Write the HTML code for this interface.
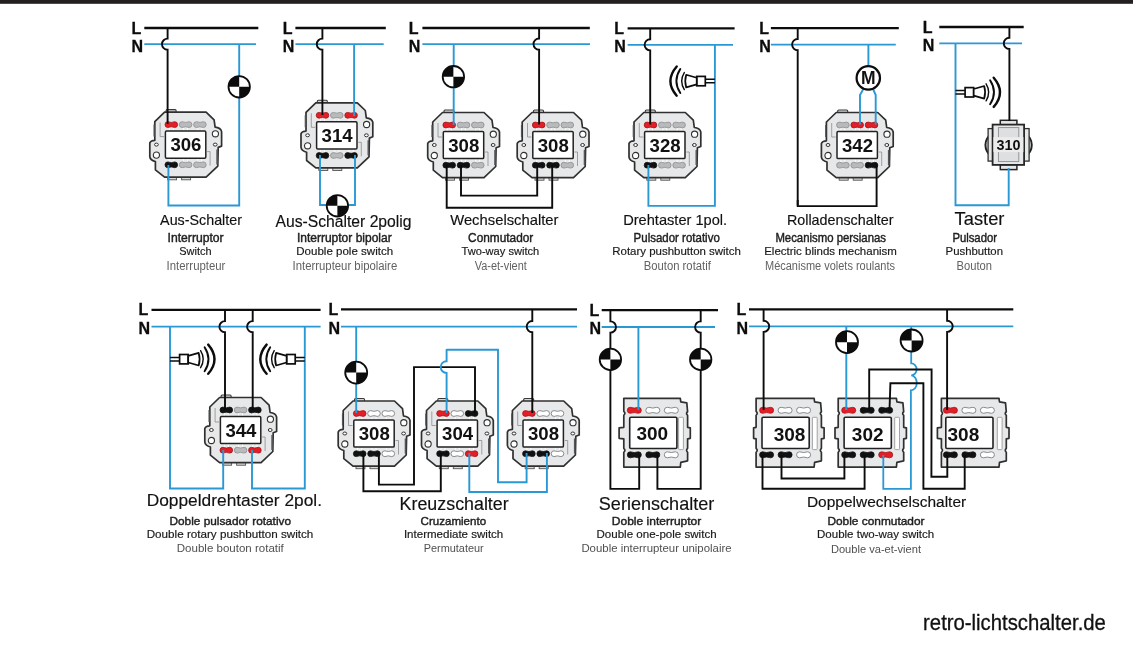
<!DOCTYPE html>
<html><head><meta charset="utf-8"><title>Schaltpl&#228;ne</title>
<style>
html,body{margin:0;padding:0;background:#fff;}
body{width:1133px;height:658px;overflow:hidden;font-family:"Liberation Sans",sans-serif;}
svg{display:block;}
body{will-change:transform;}
text{font-family:"Liberation Sans",sans-serif;}
.ln{font-weight:bold;font-size:16px;fill:#0c0c0c;stroke:#0c0c0c;stroke-width:0.3px;}
.num{font-weight:bold;fill:#111;}
.title{fill:#111;stroke:#111;stroke-width:0.15px;}
.sb{font-weight:normal;font-size:12.1px;fill:#1e1e1e;stroke:#1e1e1e;stroke-width:0.42px;}
.sr{font-size:11.6px;fill:#1a1a1a;stroke:#1a1a1a;stroke-width:0.18px;}
.sl{font-size:12px;fill:#626262;}
.sb2{font-weight:normal;font-size:11.8px;fill:#1e1e1e;stroke:#1e1e1e;stroke-width:0.42px;}
.sr2{font-size:11.6px;fill:#1a1a1a;stroke:#1a1a1a;stroke-width:0.18px;}
.sl2{font-size:11.2px;fill:#505050;}
.site{font-size:21.4px;fill:#111;stroke:#111;stroke-width:0.3px;}
</style></head><body>
<svg width="1133" height="658" viewBox="0 0 1133 658">
<rect x="0" y="0" width="1133" height="658" fill="#ffffff"/>
<rect x="0" y="0" width="1133" height="3.8" fill="#231f20"/>
<g transform="translate(185.6,144.6)"><rect x="-18" y="32" width="9" height="3.2" fill="#d6d7d8" stroke="#555" stroke-width="0.9"/><rect x="-4" y="32" width="9" height="3.2" fill="#d6d7d8" stroke="#555" stroke-width="0.9"/><rect x="-19.5" y="-35" width="10" height="3.5" rx="1" fill="#d6d7d8" stroke="#3a3a3a" stroke-width="1.1"/><path d="M-21,-32.5 L20.5,-32.5 L28.5,-24.8 L29.5,-17.5 Q35,-17 36,-13 L36,1.5 L32.6,2.8 L32.2,21.5 L20.5,32.6 L-21,32.6 L-30.2,25.2 L-30.2,17 Q-35.5,15.5 -35.8,12 L-35.8,-1.5 Q-35,-4 -30.8,-4.2 L-30.8,-23 Z" fill="#e7e8e9" stroke="#303030" stroke-width="1.7" stroke-linejoin="round"/><path d="M-25.5,-22 L-25.5,-8 L-21.5,-8" fill="none" stroke="#8b8c8e" stroke-width="0.8"/><path d="M21.5,7 L24.5,7 L24.5,21" fill="none" stroke="#8b8c8e" stroke-width="0.8"/><path d="M31.5,5 L31.5,20" fill="none" stroke="#55565a" stroke-width="1.6"/><path d="M-31.5,-20 L-31.5,-8" fill="none" stroke="#55565a" stroke-width="1.2"/><circle cx="29.8" cy="-10.8" r="3.1" fill="#fff" stroke="#303030" stroke-width="1.1"/><ellipse cx="29.6" cy="0" rx="1.9" ry="1.5" fill="#fff" stroke="#303030" stroke-width="1"/><ellipse cx="-29.2" cy="0" rx="1.9" ry="1.5" fill="#fff" stroke="#303030" stroke-width="1"/><circle cx="-29.2" cy="10.5" r="3.1" fill="#fff" stroke="#303030" stroke-width="1.1"/><path d="M-16.3,-17 L-16.3,-14 M-12.3,-17 L-12.3,-14 M-16.3,17 L-16.3,14 M-12.3,17 L-12.3,14" stroke="#fff" stroke-width="0.9"/><path d="M-2,-17 L-2,-14 M2,-17 L2,-14 M-2,17 L-2,14 M2,17 L2,14" stroke="#fff" stroke-width="0.9"/><path d="M12.3,-17 L12.3,-14 M16.3,-17 L16.3,-14 M12.3,17 L12.3,14 M16.3,17 L16.3,14" stroke="#fff" stroke-width="0.9"/><rect x="-20.2" y="-13.6" width="40.4" height="27.2" rx="1.2" fill="#fff" stroke="#222" stroke-width="1.5"/></g>
<path d="M167.9,121.7 Q171.3,123.2 174.7,121.7 A2.9,2.9 0 0 1 174.7,127.5 Q171.3,126.0 167.9,127.5 A2.9,2.9 0 0 1 167.9,121.7 Z" fill="#e41e26" stroke="#a01318" stroke-width="0.8"/>
<path d="M182.2,121.7 Q185.6,123.2 189.0,121.7 A2.9,2.9 0 0 1 189.0,127.5 Q185.6,126.0 182.2,127.5 A2.9,2.9 0 0 1 182.2,121.7 Z" fill="#b9babb" stroke="#8d8e90" stroke-width="0.8"/>
<path d="M196.5,121.7 Q199.9,123.2 203.3,121.7 A2.9,2.9 0 0 1 203.3,127.5 Q199.9,126.0 196.5,127.5 A2.9,2.9 0 0 1 196.5,121.7 Z" fill="#b9babb" stroke="#8d8e90" stroke-width="0.8"/>
<path d="M167.9,161.9 Q171.3,163.4 174.7,161.9 A2.9,2.9 0 0 1 174.7,167.7 Q171.3,166.2 167.9,167.7 A2.9,2.9 0 0 1 167.9,161.9 Z" fill="#111" stroke="#111" stroke-width="0.8"/>
<path d="M182.2,161.9 Q185.6,163.4 189.0,161.9 A2.9,2.9 0 0 1 189.0,167.7 Q185.6,166.2 182.2,167.7 A2.9,2.9 0 0 1 182.2,161.9 Z" fill="#b9babb" stroke="#8d8e90" stroke-width="0.8"/>
<path d="M196.5,161.9 Q199.9,163.4 203.3,161.9 A2.9,2.9 0 0 1 203.3,167.7 Q199.9,166.2 196.5,167.7 A2.9,2.9 0 0 1 196.5,161.9 Z" fill="#b9babb" stroke="#8d8e90" stroke-width="0.8"/>
<g transform="translate(336.8,135.3)"><rect x="-18" y="32" width="9" height="3.2" fill="#d6d7d8" stroke="#555" stroke-width="0.9"/><rect x="-4" y="32" width="9" height="3.2" fill="#d6d7d8" stroke="#555" stroke-width="0.9"/><rect x="-19.5" y="-35" width="10" height="3.5" rx="1" fill="#d6d7d8" stroke="#3a3a3a" stroke-width="1.1"/><path d="M-21,-32.5 L20.5,-32.5 L28.5,-24.8 L29.5,-17.5 Q35,-17 36,-13 L36,1.5 L32.6,2.8 L32.2,21.5 L20.5,32.6 L-21,32.6 L-30.2,25.2 L-30.2,17 Q-35.5,15.5 -35.8,12 L-35.8,-1.5 Q-35,-4 -30.8,-4.2 L-30.8,-23 Z" fill="#e7e8e9" stroke="#303030" stroke-width="1.7" stroke-linejoin="round"/><path d="M-25.5,-22 L-25.5,-8 L-21.5,-8" fill="none" stroke="#8b8c8e" stroke-width="0.8"/><path d="M21.5,7 L24.5,7 L24.5,21" fill="none" stroke="#8b8c8e" stroke-width="0.8"/><path d="M31.5,5 L31.5,20" fill="none" stroke="#55565a" stroke-width="1.6"/><path d="M-31.5,-20 L-31.5,-8" fill="none" stroke="#55565a" stroke-width="1.2"/><circle cx="29.8" cy="-10.8" r="3.1" fill="#fff" stroke="#303030" stroke-width="1.1"/><ellipse cx="29.6" cy="0" rx="1.9" ry="1.5" fill="#fff" stroke="#303030" stroke-width="1"/><ellipse cx="-29.2" cy="0" rx="1.9" ry="1.5" fill="#fff" stroke="#303030" stroke-width="1"/><circle cx="-29.2" cy="10.5" r="3.1" fill="#fff" stroke="#303030" stroke-width="1.1"/><path d="M-16.3,-17 L-16.3,-14 M-12.3,-17 L-12.3,-14 M-16.3,17 L-16.3,14 M-12.3,17 L-12.3,14" stroke="#fff" stroke-width="0.9"/><path d="M-2,-17 L-2,-14 M2,-17 L2,-14 M-2,17 L-2,14 M2,17 L2,14" stroke="#fff" stroke-width="0.9"/><path d="M12.3,-17 L12.3,-14 M16.3,-17 L16.3,-14 M12.3,17 L12.3,14 M16.3,17 L16.3,14" stroke="#fff" stroke-width="0.9"/><rect x="-20.2" y="-13.6" width="40.4" height="27.2" rx="1.2" fill="#fff" stroke="#222" stroke-width="1.5"/></g>
<path d="M319.1,112.4 Q322.5,113.9 325.9,112.4 A2.9,2.9 0 0 1 325.9,118.2 Q322.5,116.7 319.1,118.2 A2.9,2.9 0 0 1 319.1,112.4 Z" fill="#e41e26" stroke="#a01318" stroke-width="0.8"/>
<path d="M333.4,112.4 Q336.8,113.9 340.2,112.4 A2.9,2.9 0 0 1 340.2,118.2 Q336.8,116.7 333.4,118.2 A2.9,2.9 0 0 1 333.4,112.4 Z" fill="#b9babb" stroke="#8d8e90" stroke-width="0.8"/>
<path d="M347.7,112.4 Q351.1,113.9 354.5,112.4 A2.9,2.9 0 0 1 354.5,118.2 Q351.1,116.7 347.7,118.2 A2.9,2.9 0 0 1 347.7,112.4 Z" fill="#e41e26" stroke="#a01318" stroke-width="0.8"/>
<path d="M319.1,152.6 Q322.5,154.1 325.9,152.6 A2.9,2.9 0 0 1 325.9,158.4 Q322.5,156.9 319.1,158.4 A2.9,2.9 0 0 1 319.1,152.6 Z" fill="#111" stroke="#111" stroke-width="0.8"/>
<path d="M333.4,152.6 Q336.8,154.1 340.2,152.6 A2.9,2.9 0 0 1 340.2,158.4 Q336.8,156.9 333.4,158.4 A2.9,2.9 0 0 1 333.4,152.6 Z" fill="#b9babb" stroke="#8d8e90" stroke-width="0.8"/>
<path d="M347.7,152.6 Q351.1,154.1 354.5,152.6 A2.9,2.9 0 0 1 354.5,158.4 Q351.1,156.9 347.7,158.4 A2.9,2.9 0 0 1 347.7,152.6 Z" fill="#111" stroke="#111" stroke-width="0.8"/>
<g transform="translate(463.5,145)"><rect x="-18" y="32" width="9" height="3.2" fill="#d6d7d8" stroke="#555" stroke-width="0.9"/><rect x="-4" y="32" width="9" height="3.2" fill="#d6d7d8" stroke="#555" stroke-width="0.9"/><rect x="-19.5" y="-35" width="10" height="3.5" rx="1" fill="#d6d7d8" stroke="#3a3a3a" stroke-width="1.1"/><path d="M-21,-32.5 L20.5,-32.5 L28.5,-24.8 L29.5,-17.5 Q35,-17 36,-13 L36,1.5 L32.6,2.8 L32.2,21.5 L20.5,32.6 L-21,32.6 L-30.2,25.2 L-30.2,17 Q-35.5,15.5 -35.8,12 L-35.8,-1.5 Q-35,-4 -30.8,-4.2 L-30.8,-23 Z" fill="#e7e8e9" stroke="#303030" stroke-width="1.7" stroke-linejoin="round"/><path d="M-25.5,-22 L-25.5,-8 L-21.5,-8" fill="none" stroke="#8b8c8e" stroke-width="0.8"/><path d="M21.5,7 L24.5,7 L24.5,21" fill="none" stroke="#8b8c8e" stroke-width="0.8"/><path d="M31.5,5 L31.5,20" fill="none" stroke="#55565a" stroke-width="1.6"/><path d="M-31.5,-20 L-31.5,-8" fill="none" stroke="#55565a" stroke-width="1.2"/><circle cx="29.8" cy="-10.8" r="3.1" fill="#fff" stroke="#303030" stroke-width="1.1"/><ellipse cx="29.6" cy="0" rx="1.9" ry="1.5" fill="#fff" stroke="#303030" stroke-width="1"/><ellipse cx="-29.2" cy="0" rx="1.9" ry="1.5" fill="#fff" stroke="#303030" stroke-width="1"/><circle cx="-29.2" cy="10.5" r="3.1" fill="#fff" stroke="#303030" stroke-width="1.1"/><path d="M-16.3,-17 L-16.3,-14 M-12.3,-17 L-12.3,-14 M-16.3,17 L-16.3,14 M-12.3,17 L-12.3,14" stroke="#fff" stroke-width="0.9"/><path d="M-2,-17 L-2,-14 M2,-17 L2,-14 M-2,17 L-2,14 M2,17 L2,14" stroke="#fff" stroke-width="0.9"/><path d="M12.3,-17 L12.3,-14 M16.3,-17 L16.3,-14 M12.3,17 L12.3,14 M16.3,17 L16.3,14" stroke="#fff" stroke-width="0.9"/><rect x="-20.2" y="-13.6" width="40.4" height="27.2" rx="1.2" fill="#fff" stroke="#222" stroke-width="1.5"/></g>
<path d="M445.8,122.1 Q449.2,123.6 452.6,122.1 A2.9,2.9 0 0 1 452.6,127.9 Q449.2,126.4 445.8,127.9 A2.9,2.9 0 0 1 445.8,122.1 Z" fill="#e41e26" stroke="#a01318" stroke-width="0.8"/>
<path d="M460.1,122.1 Q463.5,123.6 466.9,122.1 A2.9,2.9 0 0 1 466.9,127.9 Q463.5,126.4 460.1,127.9 A2.9,2.9 0 0 1 460.1,122.1 Z" fill="#b9babb" stroke="#8d8e90" stroke-width="0.8"/>
<path d="M474.4,122.1 Q477.8,123.6 481.2,122.1 A2.9,2.9 0 0 1 481.2,127.9 Q477.8,126.4 474.4,127.9 A2.9,2.9 0 0 1 474.4,122.1 Z" fill="#b9babb" stroke="#8d8e90" stroke-width="0.8"/>
<path d="M445.8,162.3 Q449.2,163.8 452.6,162.3 A2.9,2.9 0 0 1 452.6,168.1 Q449.2,166.6 445.8,168.1 A2.9,2.9 0 0 1 445.8,162.3 Z" fill="#111" stroke="#111" stroke-width="0.8"/>
<path d="M460.1,162.3 Q463.5,163.8 466.9,162.3 A2.9,2.9 0 0 1 466.9,168.1 Q463.5,166.6 460.1,168.1 A2.9,2.9 0 0 1 460.1,162.3 Z" fill="#111" stroke="#111" stroke-width="0.8"/>
<path d="M474.4,162.3 Q477.8,163.8 481.2,162.3 A2.9,2.9 0 0 1 481.2,168.1 Q477.8,166.6 474.4,168.1 A2.9,2.9 0 0 1 474.4,162.3 Z" fill="#b9babb" stroke="#8d8e90" stroke-width="0.8"/>
<g transform="translate(553,145)"><rect x="-18" y="32" width="9" height="3.2" fill="#d6d7d8" stroke="#555" stroke-width="0.9"/><rect x="-4" y="32" width="9" height="3.2" fill="#d6d7d8" stroke="#555" stroke-width="0.9"/><rect x="-19.5" y="-35" width="10" height="3.5" rx="1" fill="#d6d7d8" stroke="#3a3a3a" stroke-width="1.1"/><path d="M-21,-32.5 L20.5,-32.5 L28.5,-24.8 L29.5,-17.5 Q35,-17 36,-13 L36,1.5 L32.6,2.8 L32.2,21.5 L20.5,32.6 L-21,32.6 L-30.2,25.2 L-30.2,17 Q-35.5,15.5 -35.8,12 L-35.8,-1.5 Q-35,-4 -30.8,-4.2 L-30.8,-23 Z" fill="#e7e8e9" stroke="#303030" stroke-width="1.7" stroke-linejoin="round"/><path d="M-25.5,-22 L-25.5,-8 L-21.5,-8" fill="none" stroke="#8b8c8e" stroke-width="0.8"/><path d="M21.5,7 L24.5,7 L24.5,21" fill="none" stroke="#8b8c8e" stroke-width="0.8"/><path d="M31.5,5 L31.5,20" fill="none" stroke="#55565a" stroke-width="1.6"/><path d="M-31.5,-20 L-31.5,-8" fill="none" stroke="#55565a" stroke-width="1.2"/><circle cx="29.8" cy="-10.8" r="3.1" fill="#fff" stroke="#303030" stroke-width="1.1"/><ellipse cx="29.6" cy="0" rx="1.9" ry="1.5" fill="#fff" stroke="#303030" stroke-width="1"/><ellipse cx="-29.2" cy="0" rx="1.9" ry="1.5" fill="#fff" stroke="#303030" stroke-width="1"/><circle cx="-29.2" cy="10.5" r="3.1" fill="#fff" stroke="#303030" stroke-width="1.1"/><path d="M-16.3,-17 L-16.3,-14 M-12.3,-17 L-12.3,-14 M-16.3,17 L-16.3,14 M-12.3,17 L-12.3,14" stroke="#fff" stroke-width="0.9"/><path d="M-2,-17 L-2,-14 M2,-17 L2,-14 M-2,17 L-2,14 M2,17 L2,14" stroke="#fff" stroke-width="0.9"/><path d="M12.3,-17 L12.3,-14 M16.3,-17 L16.3,-14 M12.3,17 L12.3,14 M16.3,17 L16.3,14" stroke="#fff" stroke-width="0.9"/><rect x="-20.2" y="-13.6" width="40.4" height="27.2" rx="1.2" fill="#fff" stroke="#222" stroke-width="1.5"/></g>
<path d="M535.3,122.1 Q538.7,123.6 542.1,122.1 A2.9,2.9 0 0 1 542.1,127.9 Q538.7,126.4 535.3,127.9 A2.9,2.9 0 0 1 535.3,122.1 Z" fill="#e41e26" stroke="#a01318" stroke-width="0.8"/>
<path d="M549.6,122.1 Q553.0,123.6 556.4,122.1 A2.9,2.9 0 0 1 556.4,127.9 Q553.0,126.4 549.6,127.9 A2.9,2.9 0 0 1 549.6,122.1 Z" fill="#b9babb" stroke="#8d8e90" stroke-width="0.8"/>
<path d="M563.9,122.1 Q567.3,123.6 570.7,122.1 A2.9,2.9 0 0 1 570.7,127.9 Q567.3,126.4 563.9,127.9 A2.9,2.9 0 0 1 563.9,122.1 Z" fill="#b9babb" stroke="#8d8e90" stroke-width="0.8"/>
<path d="M535.3,162.3 Q538.7,163.8 542.1,162.3 A2.9,2.9 0 0 1 542.1,168.1 Q538.7,166.6 535.3,168.1 A2.9,2.9 0 0 1 535.3,162.3 Z" fill="#111" stroke="#111" stroke-width="0.8"/>
<path d="M549.6,162.3 Q553.0,163.8 556.4,162.3 A2.9,2.9 0 0 1 556.4,168.1 Q553.0,166.6 549.6,168.1 A2.9,2.9 0 0 1 549.6,162.3 Z" fill="#111" stroke="#111" stroke-width="0.8"/>
<path d="M563.9,162.3 Q567.3,163.8 570.7,162.3 A2.9,2.9 0 0 1 570.7,168.1 Q567.3,166.6 563.9,168.1 A2.9,2.9 0 0 1 563.9,162.3 Z" fill="#b9babb" stroke="#8d8e90" stroke-width="0.8"/>
<g transform="translate(664.8,145)"><rect x="-18" y="32" width="9" height="3.2" fill="#d6d7d8" stroke="#555" stroke-width="0.9"/><rect x="-4" y="32" width="9" height="3.2" fill="#d6d7d8" stroke="#555" stroke-width="0.9"/><rect x="-19.5" y="-35" width="10" height="3.5" rx="1" fill="#d6d7d8" stroke="#3a3a3a" stroke-width="1.1"/><path d="M-21,-32.5 L20.5,-32.5 L28.5,-24.8 L29.5,-17.5 Q35,-17 36,-13 L36,1.5 L32.6,2.8 L32.2,21.5 L20.5,32.6 L-21,32.6 L-30.2,25.2 L-30.2,17 Q-35.5,15.5 -35.8,12 L-35.8,-1.5 Q-35,-4 -30.8,-4.2 L-30.8,-23 Z" fill="#e7e8e9" stroke="#303030" stroke-width="1.7" stroke-linejoin="round"/><path d="M-25.5,-22 L-25.5,-8 L-21.5,-8" fill="none" stroke="#8b8c8e" stroke-width="0.8"/><path d="M21.5,7 L24.5,7 L24.5,21" fill="none" stroke="#8b8c8e" stroke-width="0.8"/><path d="M31.5,5 L31.5,20" fill="none" stroke="#55565a" stroke-width="1.6"/><path d="M-31.5,-20 L-31.5,-8" fill="none" stroke="#55565a" stroke-width="1.2"/><circle cx="29.8" cy="-10.8" r="3.1" fill="#fff" stroke="#303030" stroke-width="1.1"/><ellipse cx="29.6" cy="0" rx="1.9" ry="1.5" fill="#fff" stroke="#303030" stroke-width="1"/><ellipse cx="-29.2" cy="0" rx="1.9" ry="1.5" fill="#fff" stroke="#303030" stroke-width="1"/><circle cx="-29.2" cy="10.5" r="3.1" fill="#fff" stroke="#303030" stroke-width="1.1"/><path d="M-16.3,-17 L-16.3,-14 M-12.3,-17 L-12.3,-14 M-16.3,17 L-16.3,14 M-12.3,17 L-12.3,14" stroke="#fff" stroke-width="0.9"/><path d="M-2,-17 L-2,-14 M2,-17 L2,-14 M-2,17 L-2,14 M2,17 L2,14" stroke="#fff" stroke-width="0.9"/><path d="M12.3,-17 L12.3,-14 M16.3,-17 L16.3,-14 M12.3,17 L12.3,14 M16.3,17 L16.3,14" stroke="#fff" stroke-width="0.9"/><rect x="-20.2" y="-13.6" width="40.4" height="27.2" rx="1.2" fill="#fff" stroke="#222" stroke-width="1.5"/></g>
<path d="M647.1,122.1 Q650.5,123.6 653.9,122.1 A2.9,2.9 0 0 1 653.9,127.9 Q650.5,126.4 647.1,127.9 A2.9,2.9 0 0 1 647.1,122.1 Z" fill="#e41e26" stroke="#a01318" stroke-width="0.8"/>
<path d="M661.4,122.1 Q664.8,123.6 668.2,122.1 A2.9,2.9 0 0 1 668.2,127.9 Q664.8,126.4 661.4,127.9 A2.9,2.9 0 0 1 661.4,122.1 Z" fill="#b9babb" stroke="#8d8e90" stroke-width="0.8"/>
<path d="M675.7,122.1 Q679.1,123.6 682.5,122.1 A2.9,2.9 0 0 1 682.5,127.9 Q679.1,126.4 675.7,127.9 A2.9,2.9 0 0 1 675.7,122.1 Z" fill="#b9babb" stroke="#8d8e90" stroke-width="0.8"/>
<path d="M647.1,162.3 Q650.5,163.8 653.9,162.3 A2.9,2.9 0 0 1 653.9,168.1 Q650.5,166.6 647.1,168.1 A2.9,2.9 0 0 1 647.1,162.3 Z" fill="#111" stroke="#111" stroke-width="0.8"/>
<path d="M661.4,162.3 Q664.8,163.8 668.2,162.3 A2.9,2.9 0 0 1 668.2,168.1 Q664.8,166.6 661.4,168.1 A2.9,2.9 0 0 1 661.4,162.3 Z" fill="#b9babb" stroke="#8d8e90" stroke-width="0.8"/>
<path d="M675.7,162.3 Q679.1,163.8 682.5,162.3 A2.9,2.9 0 0 1 682.5,168.1 Q679.1,166.6 675.7,168.1 A2.9,2.9 0 0 1 675.7,162.3 Z" fill="#b9babb" stroke="#8d8e90" stroke-width="0.8"/>
<g transform="translate(857.2,145)"><rect x="-18" y="32" width="9" height="3.2" fill="#d6d7d8" stroke="#555" stroke-width="0.9"/><rect x="-4" y="32" width="9" height="3.2" fill="#d6d7d8" stroke="#555" stroke-width="0.9"/><rect x="-19.5" y="-35" width="10" height="3.5" rx="1" fill="#d6d7d8" stroke="#3a3a3a" stroke-width="1.1"/><path d="M-21,-32.5 L20.5,-32.5 L28.5,-24.8 L29.5,-17.5 Q35,-17 36,-13 L36,1.5 L32.6,2.8 L32.2,21.5 L20.5,32.6 L-21,32.6 L-30.2,25.2 L-30.2,17 Q-35.5,15.5 -35.8,12 L-35.8,-1.5 Q-35,-4 -30.8,-4.2 L-30.8,-23 Z" fill="#e7e8e9" stroke="#303030" stroke-width="1.7" stroke-linejoin="round"/><path d="M-25.5,-22 L-25.5,-8 L-21.5,-8" fill="none" stroke="#8b8c8e" stroke-width="0.8"/><path d="M21.5,7 L24.5,7 L24.5,21" fill="none" stroke="#8b8c8e" stroke-width="0.8"/><path d="M31.5,5 L31.5,20" fill="none" stroke="#55565a" stroke-width="1.6"/><path d="M-31.5,-20 L-31.5,-8" fill="none" stroke="#55565a" stroke-width="1.2"/><circle cx="29.8" cy="-10.8" r="3.1" fill="#fff" stroke="#303030" stroke-width="1.1"/><ellipse cx="29.6" cy="0" rx="1.9" ry="1.5" fill="#fff" stroke="#303030" stroke-width="1"/><ellipse cx="-29.2" cy="0" rx="1.9" ry="1.5" fill="#fff" stroke="#303030" stroke-width="1"/><circle cx="-29.2" cy="10.5" r="3.1" fill="#fff" stroke="#303030" stroke-width="1.1"/><path d="M-16.3,-17 L-16.3,-14 M-12.3,-17 L-12.3,-14 M-16.3,17 L-16.3,14 M-12.3,17 L-12.3,14" stroke="#fff" stroke-width="0.9"/><path d="M-2,-17 L-2,-14 M2,-17 L2,-14 M-2,17 L-2,14 M2,17 L2,14" stroke="#fff" stroke-width="0.9"/><path d="M12.3,-17 L12.3,-14 M16.3,-17 L16.3,-14 M12.3,17 L12.3,14 M16.3,17 L16.3,14" stroke="#fff" stroke-width="0.9"/><rect x="-20.2" y="-13.6" width="40.4" height="27.2" rx="1.2" fill="#fff" stroke="#222" stroke-width="1.5"/></g>
<path d="M839.5,122.1 Q842.9,123.6 846.3,122.1 A2.9,2.9 0 0 1 846.3,127.9 Q842.9,126.4 839.5,127.9 A2.9,2.9 0 0 1 839.5,122.1 Z" fill="#b9babb" stroke="#8d8e90" stroke-width="0.8"/>
<path d="M853.8,122.1 Q857.2,123.6 860.6,122.1 A2.9,2.9 0 0 1 860.6,127.9 Q857.2,126.4 853.8,127.9 A2.9,2.9 0 0 1 853.8,122.1 Z" fill="#e41e26" stroke="#a01318" stroke-width="0.8"/>
<path d="M868.1,122.1 Q871.5,123.6 874.9,122.1 A2.9,2.9 0 0 1 874.9,127.9 Q871.5,126.4 868.1,127.9 A2.9,2.9 0 0 1 868.1,122.1 Z" fill="#e41e26" stroke="#a01318" stroke-width="0.8"/>
<path d="M839.5,162.3 Q842.9,163.8 846.3,162.3 A2.9,2.9 0 0 1 846.3,168.1 Q842.9,166.6 839.5,168.1 A2.9,2.9 0 0 1 839.5,162.3 Z" fill="#b9babb" stroke="#8d8e90" stroke-width="0.8"/>
<path d="M853.8,162.3 Q857.2,163.8 860.6,162.3 A2.9,2.9 0 0 1 860.6,168.1 Q857.2,166.6 853.8,168.1 A2.9,2.9 0 0 1 853.8,162.3 Z" fill="#b9babb" stroke="#8d8e90" stroke-width="0.8"/>
<path d="M868.1,162.3 Q871.5,163.8 874.9,162.3 A2.9,2.9 0 0 1 874.9,168.1 Q871.5,166.6 868.1,168.1 A2.9,2.9 0 0 1 868.1,162.3 Z" fill="#111" stroke="#111" stroke-width="0.8"/>
<g transform="translate(1008.6,144.6)"><ellipse cx="0" cy="0.5" rx="23.2" ry="17" fill="#dcddde" stroke="#222" stroke-width="1.9"/><rect x="-20.5" y="-16" width="41" height="32.5" fill="#e7e8e9" stroke="#303030" stroke-width="1.3"/><rect x="-8.3" y="-24.3" width="16.6" height="5" fill="#e7e8e9" stroke="#262626" stroke-width="1.5"/><rect x="-8.3" y="20" width="16.6" height="5" fill="#e7e8e9" stroke="#262626" stroke-width="1.5"/><rect x="-16" y="-20" width="31.5" height="40.3" fill="#e7e8e9" stroke="#262626" stroke-width="1.8"/><rect x="-10.2" y="-17" width="20.4" height="34" fill="#dedfe0" stroke="#8c8d8f" stroke-width="0.9"/><rect x="-15.2" y="-7.5" width="30" height="15" fill="#ececed"/></g>
<g transform="translate(240.6,430)"><rect x="-18" y="32" width="9" height="3.2" fill="#d6d7d8" stroke="#555" stroke-width="0.9"/><rect x="-4" y="32" width="9" height="3.2" fill="#d6d7d8" stroke="#555" stroke-width="0.9"/><rect x="-19.5" y="-35" width="10" height="3.5" rx="1" fill="#d6d7d8" stroke="#3a3a3a" stroke-width="1.1"/><path d="M-21,-32.5 L20.5,-32.5 L28.5,-24.8 L29.5,-17.5 Q35,-17 36,-13 L36,1.5 L32.6,2.8 L32.2,21.5 L20.5,32.6 L-21,32.6 L-30.2,25.2 L-30.2,17 Q-35.5,15.5 -35.8,12 L-35.8,-1.5 Q-35,-4 -30.8,-4.2 L-30.8,-23 Z" fill="#e7e8e9" stroke="#303030" stroke-width="1.7" stroke-linejoin="round"/><path d="M-25.5,-22 L-25.5,-8 L-21.5,-8" fill="none" stroke="#8b8c8e" stroke-width="0.8"/><path d="M21.5,7 L24.5,7 L24.5,21" fill="none" stroke="#8b8c8e" stroke-width="0.8"/><path d="M31.5,5 L31.5,20" fill="none" stroke="#55565a" stroke-width="1.6"/><path d="M-31.5,-20 L-31.5,-8" fill="none" stroke="#55565a" stroke-width="1.2"/><circle cx="29.8" cy="-10.8" r="3.1" fill="#fff" stroke="#303030" stroke-width="1.1"/><ellipse cx="29.6" cy="0" rx="1.9" ry="1.5" fill="#fff" stroke="#303030" stroke-width="1"/><ellipse cx="-29.2" cy="0" rx="1.9" ry="1.5" fill="#fff" stroke="#303030" stroke-width="1"/><circle cx="-29.2" cy="10.5" r="3.1" fill="#fff" stroke="#303030" stroke-width="1.1"/><path d="M-16.3,-17 L-16.3,-14 M-12.3,-17 L-12.3,-14 M-16.3,17 L-16.3,14 M-12.3,17 L-12.3,14" stroke="#fff" stroke-width="0.9"/><path d="M-2,-17 L-2,-14 M2,-17 L2,-14 M-2,17 L-2,14 M2,17 L2,14" stroke="#fff" stroke-width="0.9"/><path d="M12.3,-17 L12.3,-14 M16.3,-17 L16.3,-14 M12.3,17 L12.3,14 M16.3,17 L16.3,14" stroke="#fff" stroke-width="0.9"/><rect x="-20.2" y="-13.6" width="40.4" height="27.2" rx="1.2" fill="#fff" stroke="#222" stroke-width="1.5"/></g>
<path d="M222.9,407.1 Q226.3,408.6 229.7,407.1 A2.9,2.9 0 0 1 229.7,412.9 Q226.3,411.4 222.9,412.9 A2.9,2.9 0 0 1 222.9,407.1 Z" fill="#111" stroke="#111" stroke-width="0.8"/>
<path d="M237.2,407.1 Q240.6,408.6 244.0,407.1 A2.9,2.9 0 0 1 244.0,412.9 Q240.6,411.4 237.2,412.9 A2.9,2.9 0 0 1 237.2,407.1 Z" fill="#b9babb" stroke="#8d8e90" stroke-width="0.8"/>
<path d="M251.5,407.1 Q254.9,408.6 258.3,407.1 A2.9,2.9 0 0 1 258.3,412.9 Q254.9,411.4 251.5,412.9 A2.9,2.9 0 0 1 251.5,407.1 Z" fill="#111" stroke="#111" stroke-width="0.8"/>
<path d="M222.9,447.3 Q226.3,448.8 229.7,447.3 A2.9,2.9 0 0 1 229.7,453.1 Q226.3,451.6 222.9,453.1 A2.9,2.9 0 0 1 222.9,447.3 Z" fill="#e41e26" stroke="#a01318" stroke-width="0.8"/>
<path d="M237.2,447.3 Q240.6,448.8 244.0,447.3 A2.9,2.9 0 0 1 244.0,453.1 Q240.6,451.6 237.2,453.1 A2.9,2.9 0 0 1 237.2,447.3 Z" fill="#b9babb" stroke="#8d8e90" stroke-width="0.8"/>
<path d="M251.5,447.3 Q254.9,448.8 258.3,447.3 A2.9,2.9 0 0 1 258.3,453.1 Q254.9,451.6 251.5,453.1 A2.9,2.9 0 0 1 251.5,447.3 Z" fill="#e41e26" stroke="#a01318" stroke-width="0.8"/>
<g transform="translate(374,433.5)"><rect x="-18" y="32" width="9" height="3.2" fill="#d6d7d8" stroke="#555" stroke-width="0.9"/><rect x="-4" y="32" width="9" height="3.2" fill="#d6d7d8" stroke="#555" stroke-width="0.9"/><rect x="-19.5" y="-35" width="10" height="3.5" rx="1" fill="#d6d7d8" stroke="#3a3a3a" stroke-width="1.1"/><path d="M-21,-32.5 L20.5,-32.5 L28.5,-24.8 L29.5,-17.5 Q35,-17 36,-13 L36,1.5 L32.6,2.8 L32.2,21.5 L20.5,32.6 L-21,32.6 L-30.2,25.2 L-30.2,17 Q-35.5,15.5 -35.8,12 L-35.8,-1.5 Q-35,-4 -30.8,-4.2 L-30.8,-23 Z" fill="#e7e8e9" stroke="#303030" stroke-width="1.7" stroke-linejoin="round"/><path d="M-25.5,-22 L-25.5,-8 L-21.5,-8" fill="none" stroke="#8b8c8e" stroke-width="0.8"/><path d="M21.5,7 L24.5,7 L24.5,21" fill="none" stroke="#8b8c8e" stroke-width="0.8"/><path d="M31.5,5 L31.5,20" fill="none" stroke="#55565a" stroke-width="1.6"/><path d="M-31.5,-20 L-31.5,-8" fill="none" stroke="#55565a" stroke-width="1.2"/><circle cx="29.8" cy="-10.8" r="3.1" fill="#fff" stroke="#303030" stroke-width="1.1"/><ellipse cx="29.6" cy="0" rx="1.9" ry="1.5" fill="#fff" stroke="#303030" stroke-width="1"/><ellipse cx="-29.2" cy="0" rx="1.9" ry="1.5" fill="#fff" stroke="#303030" stroke-width="1"/><circle cx="-29.2" cy="10.5" r="3.1" fill="#fff" stroke="#303030" stroke-width="1.1"/><path d="M-16.3,-17 L-16.3,-14 M-12.3,-17 L-12.3,-14 M-16.3,17 L-16.3,14 M-12.3,17 L-12.3,14" stroke="#fff" stroke-width="0.9"/><path d="M-2,-17 L-2,-14 M2,-17 L2,-14 M-2,17 L-2,14 M2,17 L2,14" stroke="#fff" stroke-width="0.9"/><path d="M12.3,-17 L12.3,-14 M16.3,-17 L16.3,-14 M12.3,17 L12.3,14 M16.3,17 L16.3,14" stroke="#fff" stroke-width="0.9"/><rect x="-20.2" y="-13.6" width="40.4" height="27.2" rx="1.2" fill="#fff" stroke="#222" stroke-width="1.5"/></g>
<path d="M356.3,410.6 Q359.7,412.1 363.1,410.6 A2.9,2.9 0 0 1 363.1,416.4 Q359.7,414.9 356.3,416.4 A2.9,2.9 0 0 1 356.3,410.6 Z" fill="#e41e26" stroke="#a01318" stroke-width="0.8"/>
<path d="M370.6,410.6 Q374.0,412.1 377.4,410.6 A2.9,2.9 0 0 1 377.4,416.4 Q374.0,414.9 370.6,416.4 A2.9,2.9 0 0 1 370.6,410.6 Z" fill="#fff" stroke="#707173" stroke-width="0.8"/>
<path d="M384.9,410.6 Q388.3,412.1 391.7,410.6 A2.9,2.9 0 0 1 391.7,416.4 Q388.3,414.9 384.9,416.4 A2.9,2.9 0 0 1 384.9,410.6 Z" fill="#fff" stroke="#707173" stroke-width="0.8"/>
<path d="M356.3,450.8 Q359.7,452.3 363.1,450.8 A2.9,2.9 0 0 1 363.1,456.6 Q359.7,455.1 356.3,456.6 A2.9,2.9 0 0 1 356.3,450.8 Z" fill="#111" stroke="#111" stroke-width="0.8"/>
<path d="M370.6,450.8 Q374.0,452.3 377.4,450.8 A2.9,2.9 0 0 1 377.4,456.6 Q374.0,455.1 370.6,456.6 A2.9,2.9 0 0 1 370.6,450.8 Z" fill="#111" stroke="#111" stroke-width="0.8"/>
<path d="M384.9,450.8 Q388.3,452.3 391.7,450.8 A2.9,2.9 0 0 1 391.7,456.6 Q388.3,455.1 384.9,456.6 A2.9,2.9 0 0 1 384.9,450.8 Z" fill="#fff" stroke="#707173" stroke-width="0.8"/>
<g transform="translate(457.3,433.5)"><rect x="-18" y="32" width="9" height="3.2" fill="#d6d7d8" stroke="#555" stroke-width="0.9"/><rect x="-4" y="32" width="9" height="3.2" fill="#d6d7d8" stroke="#555" stroke-width="0.9"/><rect x="-19.5" y="-35" width="10" height="3.5" rx="1" fill="#d6d7d8" stroke="#3a3a3a" stroke-width="1.1"/><path d="M-21,-32.5 L20.5,-32.5 L28.5,-24.8 L29.5,-17.5 Q35,-17 36,-13 L36,1.5 L32.6,2.8 L32.2,21.5 L20.5,32.6 L-21,32.6 L-30.2,25.2 L-30.2,17 Q-35.5,15.5 -35.8,12 L-35.8,-1.5 Q-35,-4 -30.8,-4.2 L-30.8,-23 Z" fill="#e7e8e9" stroke="#303030" stroke-width="1.7" stroke-linejoin="round"/><path d="M-25.5,-22 L-25.5,-8 L-21.5,-8" fill="none" stroke="#8b8c8e" stroke-width="0.8"/><path d="M21.5,7 L24.5,7 L24.5,21" fill="none" stroke="#8b8c8e" stroke-width="0.8"/><path d="M31.5,5 L31.5,20" fill="none" stroke="#55565a" stroke-width="1.6"/><path d="M-31.5,-20 L-31.5,-8" fill="none" stroke="#55565a" stroke-width="1.2"/><circle cx="29.8" cy="-10.8" r="3.1" fill="#fff" stroke="#303030" stroke-width="1.1"/><ellipse cx="29.6" cy="0" rx="1.9" ry="1.5" fill="#fff" stroke="#303030" stroke-width="1"/><ellipse cx="-29.2" cy="0" rx="1.9" ry="1.5" fill="#fff" stroke="#303030" stroke-width="1"/><circle cx="-29.2" cy="10.5" r="3.1" fill="#fff" stroke="#303030" stroke-width="1.1"/><path d="M-16.3,-17 L-16.3,-14 M-12.3,-17 L-12.3,-14 M-16.3,17 L-16.3,14 M-12.3,17 L-12.3,14" stroke="#fff" stroke-width="0.9"/><path d="M-2,-17 L-2,-14 M2,-17 L2,-14 M-2,17 L-2,14 M2,17 L2,14" stroke="#fff" stroke-width="0.9"/><path d="M12.3,-17 L12.3,-14 M16.3,-17 L16.3,-14 M12.3,17 L12.3,14 M16.3,17 L16.3,14" stroke="#fff" stroke-width="0.9"/><rect x="-20.2" y="-13.6" width="40.4" height="27.2" rx="1.2" fill="#fff" stroke="#222" stroke-width="1.5"/></g>
<path d="M439.6,410.6 Q443.0,412.1 446.4,410.6 A2.9,2.9 0 0 1 446.4,416.4 Q443.0,414.9 439.6,416.4 A2.9,2.9 0 0 1 439.6,410.6 Z" fill="#e41e26" stroke="#a01318" stroke-width="0.8"/>
<path d="M453.9,410.6 Q457.3,412.1 460.7,410.6 A2.9,2.9 0 0 1 460.7,416.4 Q457.3,414.9 453.9,416.4 A2.9,2.9 0 0 1 453.9,410.6 Z" fill="#fff" stroke="#707173" stroke-width="0.8"/>
<path d="M468.2,410.6 Q471.6,412.1 475.0,410.6 A2.9,2.9 0 0 1 475.0,416.4 Q471.6,414.9 468.2,416.4 A2.9,2.9 0 0 1 468.2,410.6 Z" fill="#111" stroke="#111" stroke-width="0.8"/>
<path d="M439.6,450.8 Q443.0,452.3 446.4,450.8 A2.9,2.9 0 0 1 446.4,456.6 Q443.0,455.1 439.6,456.6 A2.9,2.9 0 0 1 439.6,450.8 Z" fill="#111" stroke="#111" stroke-width="0.8"/>
<path d="M453.9,450.8 Q457.3,452.3 460.7,450.8 A2.9,2.9 0 0 1 460.7,456.6 Q457.3,455.1 453.9,456.6 A2.9,2.9 0 0 1 453.9,450.8 Z" fill="#fff" stroke="#707173" stroke-width="0.8"/>
<path d="M468.2,450.8 Q471.6,452.3 475.0,450.8 A2.9,2.9 0 0 1 475.0,456.6 Q471.6,455.1 468.2,456.6 A2.9,2.9 0 0 1 468.2,450.8 Z" fill="#e41e26" stroke="#a01318" stroke-width="0.8"/>
<g transform="translate(543.2,433.5)"><rect x="-18" y="32" width="9" height="3.2" fill="#d6d7d8" stroke="#555" stroke-width="0.9"/><rect x="-4" y="32" width="9" height="3.2" fill="#d6d7d8" stroke="#555" stroke-width="0.9"/><rect x="-19.5" y="-35" width="10" height="3.5" rx="1" fill="#d6d7d8" stroke="#3a3a3a" stroke-width="1.1"/><path d="M-21,-32.5 L20.5,-32.5 L28.5,-24.8 L29.5,-17.5 Q35,-17 36,-13 L36,1.5 L32.6,2.8 L32.2,21.5 L20.5,32.6 L-21,32.6 L-30.2,25.2 L-30.2,17 Q-35.5,15.5 -35.8,12 L-35.8,-1.5 Q-35,-4 -30.8,-4.2 L-30.8,-23 Z" fill="#e7e8e9" stroke="#303030" stroke-width="1.7" stroke-linejoin="round"/><path d="M-25.5,-22 L-25.5,-8 L-21.5,-8" fill="none" stroke="#8b8c8e" stroke-width="0.8"/><path d="M21.5,7 L24.5,7 L24.5,21" fill="none" stroke="#8b8c8e" stroke-width="0.8"/><path d="M31.5,5 L31.5,20" fill="none" stroke="#55565a" stroke-width="1.6"/><path d="M-31.5,-20 L-31.5,-8" fill="none" stroke="#55565a" stroke-width="1.2"/><circle cx="29.8" cy="-10.8" r="3.1" fill="#fff" stroke="#303030" stroke-width="1.1"/><ellipse cx="29.6" cy="0" rx="1.9" ry="1.5" fill="#fff" stroke="#303030" stroke-width="1"/><ellipse cx="-29.2" cy="0" rx="1.9" ry="1.5" fill="#fff" stroke="#303030" stroke-width="1"/><circle cx="-29.2" cy="10.5" r="3.1" fill="#fff" stroke="#303030" stroke-width="1.1"/><path d="M-16.3,-17 L-16.3,-14 M-12.3,-17 L-12.3,-14 M-16.3,17 L-16.3,14 M-12.3,17 L-12.3,14" stroke="#fff" stroke-width="0.9"/><path d="M-2,-17 L-2,-14 M2,-17 L2,-14 M-2,17 L-2,14 M2,17 L2,14" stroke="#fff" stroke-width="0.9"/><path d="M12.3,-17 L12.3,-14 M16.3,-17 L16.3,-14 M12.3,17 L12.3,14 M16.3,17 L16.3,14" stroke="#fff" stroke-width="0.9"/><rect x="-20.2" y="-13.6" width="40.4" height="27.2" rx="1.2" fill="#fff" stroke="#222" stroke-width="1.5"/></g>
<path d="M525.5,410.6 Q528.9,412.1 532.3,410.6 A2.9,2.9 0 0 1 532.3,416.4 Q528.9,414.9 525.5,416.4 A2.9,2.9 0 0 1 525.5,410.6 Z" fill="#e41e26" stroke="#a01318" stroke-width="0.8"/>
<path d="M539.8,410.6 Q543.2,412.1 546.6,410.6 A2.9,2.9 0 0 1 546.6,416.4 Q543.2,414.9 539.8,416.4 A2.9,2.9 0 0 1 539.8,410.6 Z" fill="#fff" stroke="#707173" stroke-width="0.8"/>
<path d="M554.1,410.6 Q557.5,412.1 560.9,410.6 A2.9,2.9 0 0 1 560.9,416.4 Q557.5,414.9 554.1,416.4 A2.9,2.9 0 0 1 554.1,410.6 Z" fill="#fff" stroke="#707173" stroke-width="0.8"/>
<path d="M525.5,450.8 Q528.9,452.3 532.3,450.8 A2.9,2.9 0 0 1 532.3,456.6 Q528.9,455.1 525.5,456.6 A2.9,2.9 0 0 1 525.5,450.8 Z" fill="#111" stroke="#111" stroke-width="0.8"/>
<path d="M539.8,450.8 Q543.2,452.3 546.6,450.8 A2.9,2.9 0 0 1 546.6,456.6 Q543.2,455.1 539.8,456.6 A2.9,2.9 0 0 1 539.8,450.8 Z" fill="#111" stroke="#111" stroke-width="0.8"/>
<path d="M554.1,450.8 Q557.5,452.3 560.9,450.8 A2.9,2.9 0 0 1 560.9,456.6 Q557.5,455.1 554.1,456.6 A2.9,2.9 0 0 1 554.1,450.8 Z" fill="#fff" stroke="#707173" stroke-width="0.8"/>
<g transform="translate(653.3,432.8)"><path d="M-29.5,-34.5 L26.999999999999996,-34.5 L27.499999999999996,-31 L33.5,-30 L34.3,-21 Q32.199999999999996,-19.5 34.3,-17.5 L34.3,-5.5 L37.0,-5 L37.0,5.5 L34.3,6 L34.3,15.5 Q32.199999999999996,17.5 34.3,19.5 L34.3,28 L27.499999999999996,29.5 L26.999999999999996,34.3 L-29.5,34.3 L-29.5,19.5 Q-27.3,17.5 -29.5,15.5 L-29.5,6 L-34.2,5.5 L-34.2,-5 L-29.5,-5.5 L-29.5,-17.5 Q-27.3,-19.5 -29.5,-21.5 Z" fill="#e7e8e9" stroke="#303030" stroke-width="1.7" stroke-linejoin="round"/><rect x="-23.6" y="-15.5" width="47.2" height="31.2" rx="1.2" fill="#fff" stroke="#222" stroke-width="1.6"/><rect x="25.3" y="-15.5" width="4.8" height="32.3" rx="0.8" fill="#fff" stroke="#9a9b9d" stroke-width="0.9"/></g>
<path d="M630.3,407.3 Q634.3,408.8 638.3,407.3 A3.0,3.0 0 0 1 638.3,413.3 Q634.3,411.8 630.3,413.3 A3.0,3.0 0 0 1 630.3,407.3 Z" fill="#e41e26" stroke="#a01318" stroke-width="0.8"/>
<path d="M648.8,407.3 Q652.8,408.8 656.8,407.3 A3.0,3.0 0 0 1 656.8,413.3 Q652.8,411.8 648.8,413.3 A3.0,3.0 0 0 1 648.8,407.3 Z" fill="#fff" stroke="#707173" stroke-width="0.8"/>
<path d="M667.3,407.3 Q671.3,408.8 675.3,407.3 A3.0,3.0 0 0 1 675.3,413.3 Q671.3,411.8 667.3,413.3 A3.0,3.0 0 0 1 667.3,407.3 Z" fill="#fff" stroke="#707173" stroke-width="0.8"/>
<path d="M630.3,451.8 Q634.3,453.3 638.3,451.8 A3.0,3.0 0 0 1 638.3,457.8 Q634.3,456.3 630.3,457.8 A3.0,3.0 0 0 1 630.3,451.8 Z" fill="#111" stroke="#111" stroke-width="0.8"/>
<path d="M648.8,451.8 Q652.8,453.3 656.8,451.8 A3.0,3.0 0 0 1 656.8,457.8 Q652.8,456.3 648.8,457.8 A3.0,3.0 0 0 1 648.8,451.8 Z" fill="#111" stroke="#111" stroke-width="0.8"/>
<path d="M667.3,451.8 Q671.3,453.3 675.3,451.8 A3.0,3.0 0 0 1 675.3,457.8 Q671.3,456.3 667.3,457.8 A3.0,3.0 0 0 1 667.3,451.8 Z" fill="#fff" stroke="#707173" stroke-width="0.8"/>
<g transform="translate(785.6,432.8)"><path d="M-29.5,-34.5 L28.499999999999996,-34.5 L28.999999999999996,-31 L35.0,-30 L35.8,-21 Q33.699999999999996,-19.5 35.8,-17.5 L35.8,-5.5 L38.5,-5 L38.5,5.5 L35.8,6 L35.8,15.5 Q33.699999999999996,17.5 35.8,19.5 L35.8,28 L28.999999999999996,29.5 L28.499999999999996,34.3 L-29.5,34.3 L-29.5,19.5 Q-27.3,17.5 -29.5,15.5 L-29.5,6 L-32,5.5 L-32,-5 L-29.5,-5.5 L-29.5,-17.5 Q-27.3,-19.5 -29.5,-21.5 Z" fill="#e7e8e9" stroke="#303030" stroke-width="1.7" stroke-linejoin="round"/><rect x="-23.6" y="-15.5" width="47.2" height="31.2" rx="1.2" fill="#fff" stroke="#222" stroke-width="1.6"/><rect x="26.8" y="-15.5" width="4.8" height="32.3" rx="0.8" fill="#fff" stroke="#9a9b9d" stroke-width="0.9"/></g>
<path d="M762.6,407.3 Q766.6,408.8 770.6,407.3 A3.0,3.0 0 0 1 770.6,413.3 Q766.6,411.8 762.6,413.3 A3.0,3.0 0 0 1 762.6,407.3 Z" fill="#e41e26" stroke="#a01318" stroke-width="0.8"/>
<path d="M781.1,407.3 Q785.1,408.8 789.1,407.3 A3.0,3.0 0 0 1 789.1,413.3 Q785.1,411.8 781.1,413.3 A3.0,3.0 0 0 1 781.1,407.3 Z" fill="#fff" stroke="#707173" stroke-width="0.8"/>
<path d="M799.6,407.3 Q803.6,408.8 807.6,407.3 A3.0,3.0 0 0 1 807.6,413.3 Q803.6,411.8 799.6,413.3 A3.0,3.0 0 0 1 799.6,407.3 Z" fill="#fff" stroke="#707173" stroke-width="0.8"/>
<path d="M762.6,451.8 Q766.6,453.3 770.6,451.8 A3.0,3.0 0 0 1 770.6,457.8 Q766.6,456.3 762.6,457.8 A3.0,3.0 0 0 1 762.6,451.8 Z" fill="#111" stroke="#111" stroke-width="0.8"/>
<path d="M781.1,451.8 Q785.1,453.3 789.1,451.8 A3.0,3.0 0 0 1 789.1,457.8 Q785.1,456.3 781.1,457.8 A3.0,3.0 0 0 1 781.1,451.8 Z" fill="#111" stroke="#111" stroke-width="0.8"/>
<path d="M799.6,451.8 Q803.6,453.3 807.6,451.8 A3.0,3.0 0 0 1 807.6,457.8 Q803.6,456.3 799.6,457.8 A3.0,3.0 0 0 1 799.6,451.8 Z" fill="#fff" stroke="#707173" stroke-width="0.8"/>
<g transform="translate(867.7,432.8)"><path d="M-29.5,-34.5 L28.7,-34.5 L29.2,-31 L35.2,-30 L36,-21 Q33.9,-19.5 36,-17.5 L36,-5.5 L38.7,-5 L38.7,5.5 L36,6 L36,15.5 Q33.9,17.5 36,19.5 L36,28 L29.2,29.5 L28.7,34.3 L-29.5,34.3 L-29.5,19.5 Q-27.3,17.5 -29.5,15.5 L-29.5,6 L-32.7,5.5 L-32.7,-5 L-29.5,-5.5 L-29.5,-17.5 Q-27.3,-19.5 -29.5,-21.5 Z" fill="#e7e8e9" stroke="#303030" stroke-width="1.7" stroke-linejoin="round"/><rect x="-23.6" y="-15.5" width="47.2" height="31.2" rx="1.2" fill="#fff" stroke="#222" stroke-width="1.6"/><rect x="27.0" y="-15.5" width="4.8" height="32.3" rx="0.8" fill="#fff" stroke="#9a9b9d" stroke-width="0.9"/></g>
<path d="M844.7,407.3 Q848.7,408.8 852.7,407.3 A3.0,3.0 0 0 1 852.7,413.3 Q848.7,411.8 844.7,413.3 A3.0,3.0 0 0 1 844.7,407.3 Z" fill="#e41e26" stroke="#a01318" stroke-width="0.8"/>
<path d="M863.2,407.3 Q867.2,408.8 871.2,407.3 A3.0,3.0 0 0 1 871.2,413.3 Q867.2,411.8 863.2,413.3 A3.0,3.0 0 0 1 863.2,407.3 Z" fill="#111" stroke="#111" stroke-width="0.8"/>
<path d="M881.7,407.3 Q885.7,408.8 889.7,407.3 A3.0,3.0 0 0 1 889.7,413.3 Q885.7,411.8 881.7,413.3 A3.0,3.0 0 0 1 881.7,407.3 Z" fill="#111" stroke="#111" stroke-width="0.8"/>
<path d="M844.7,451.8 Q848.7,453.3 852.7,451.8 A3.0,3.0 0 0 1 852.7,457.8 Q848.7,456.3 844.7,457.8 A3.0,3.0 0 0 1 844.7,451.8 Z" fill="#111" stroke="#111" stroke-width="0.8"/>
<path d="M863.2,451.8 Q867.2,453.3 871.2,451.8 A3.0,3.0 0 0 1 871.2,457.8 Q867.2,456.3 863.2,457.8 A3.0,3.0 0 0 1 863.2,451.8 Z" fill="#111" stroke="#111" stroke-width="0.8"/>
<path d="M881.7,451.8 Q885.7,453.3 889.7,451.8 A3.0,3.0 0 0 1 889.7,457.8 Q885.7,456.3 881.7,457.8 A3.0,3.0 0 0 1 881.7,451.8 Z" fill="#e41e26" stroke="#a01318" stroke-width="0.8"/>
<g transform="translate(969.4,432.8)"><path d="M-28,-34.5 L29.599999999999998,-34.5 L30.099999999999998,-31 L36.1,-30 L36.9,-21 Q34.8,-19.5 36.9,-17.5 L36.9,-5.5 L39.6,-5 L39.6,5.5 L36.9,6 L36.9,15.5 Q34.8,17.5 36.9,19.5 L36.9,28 L30.099999999999998,29.5 L29.599999999999998,34.3 L-28,34.3 L-28,19.5 Q-25.8,17.5 -28,15.5 L-28,6 L-32,5.5 L-32,-5 L-28,-5.5 L-28,-17.5 Q-25.8,-19.5 -28,-21.5 Z" fill="#e7e8e9" stroke="#303030" stroke-width="1.7" stroke-linejoin="round"/><rect x="-23.6" y="-15.5" width="47.2" height="31.2" rx="1.2" fill="#fff" stroke="#222" stroke-width="1.6"/><rect x="27.9" y="-15.5" width="4.8" height="32.3" rx="0.8" fill="#fff" stroke="#9a9b9d" stroke-width="0.9"/></g>
<path d="M946.4,407.3 Q950.4,408.8 954.4,407.3 A3.0,3.0 0 0 1 954.4,413.3 Q950.4,411.8 946.4,413.3 A3.0,3.0 0 0 1 946.4,407.3 Z" fill="#e41e26" stroke="#a01318" stroke-width="0.8"/>
<path d="M964.9,407.3 Q968.9,408.8 972.9,407.3 A3.0,3.0 0 0 1 972.9,413.3 Q968.9,411.8 964.9,413.3 A3.0,3.0 0 0 1 964.9,407.3 Z" fill="#fff" stroke="#707173" stroke-width="0.8"/>
<path d="M983.4,407.3 Q987.4,408.8 991.4,407.3 A3.0,3.0 0 0 1 991.4,413.3 Q987.4,411.8 983.4,413.3 A3.0,3.0 0 0 1 983.4,407.3 Z" fill="#fff" stroke="#707173" stroke-width="0.8"/>
<path d="M946.4,451.8 Q950.4,453.3 954.4,451.8 A3.0,3.0 0 0 1 954.4,457.8 Q950.4,456.3 946.4,457.8 A3.0,3.0 0 0 1 946.4,451.8 Z" fill="#111" stroke="#111" stroke-width="0.8"/>
<path d="M964.9,451.8 Q968.9,453.3 972.9,451.8 A3.0,3.0 0 0 1 972.9,457.8 Q968.9,456.3 964.9,457.8 A3.0,3.0 0 0 1 964.9,451.8 Z" fill="#111" stroke="#111" stroke-width="0.8"/>
<path d="M983.4,451.8 Q987.4,453.3 991.4,451.8 A3.0,3.0 0 0 1 991.4,457.8 Q987.4,456.3 983.4,457.8 A3.0,3.0 0 0 1 983.4,451.8 Z" fill="#fff" stroke="#707173" stroke-width="0.8"/>
<line x1="144.3" y1="28" x2="258.3" y2="28" stroke="#0c0c0c" stroke-width="2.3"/>
<line x1="144.3" y1="44.2" x2="256" y2="44.2" stroke="#2b98d6" stroke-width="1.8"/>
<path d="M239.2,44.2 L239.2,205.5 L168.4,205.5 L168.4,165.0" fill="none" stroke="#2b98d6" stroke-width="1.9" stroke-linejoin="miter"/>
<path d="M167.6,28.0 L167.6,38.6 A5.6,5.6 0 0 0 167.6,49.8 L167.6,124.0" fill="none" stroke="#0c0c0c" stroke-width="1.9"/>
<line x1="295.4" y1="28" x2="385.8" y2="28" stroke="#0c0c0c" stroke-width="2.3"/>
<line x1="295.4" y1="44.2" x2="383.7" y2="44.2" stroke="#2b98d6" stroke-width="1.8"/>
<path d="M320.0,155.0 L320.0,205.0 L355.0,205.0 L355.0,155.0" fill="none" stroke="#2b98d6" stroke-width="1.9" stroke-linejoin="miter"/>
<path d="M354.1,44.2 L354.1,116.0" fill="none" stroke="#2b98d6" stroke-width="1.9" stroke-linejoin="miter"/>
<path d="M322.4,28.0 L322.4,38.6 A5.6,5.6 0 0 0 322.4,49.8 L322.4,115.0" fill="none" stroke="#0c0c0c" stroke-width="1.9"/>
<line x1="422.4" y1="28" x2="589.8" y2="28" stroke="#0c0c0c" stroke-width="2.3"/>
<line x1="422.4" y1="44.1" x2="590" y2="44.1" stroke="#2b98d6" stroke-width="1.8"/>
<path d="M453.7,44.1 L453.7,125.0" fill="none" stroke="#2b98d6" stroke-width="1.9" stroke-linejoin="miter"/>
<path d="M446.7,165.0 L446.7,207.7 L552.2,207.7 L552.2,165.0" fill="none" stroke="#0c0c0c" stroke-width="1.9" stroke-linejoin="miter"/>
<path d="M461.0,165.0 L461.0,195.6 L537.2,195.6 L537.2,165.0" fill="none" stroke="#0c0c0c" stroke-width="1.9" stroke-linejoin="miter"/>
<path d="M539.1,28.0 L539.1,38.5 A5.6,5.6 0 0 0 539.1,49.7 L539.1,124.5" fill="none" stroke="#0c0c0c" stroke-width="1.9"/>
<line x1="627.6" y1="28.4" x2="734.6" y2="28.4" stroke="#0c0c0c" stroke-width="2.3"/>
<line x1="627.6" y1="44.8" x2="733" y2="44.8" stroke="#2b98d6" stroke-width="1.8"/>
<path d="M714.9,44.8 L714.9,205.9 L648.4,205.9 L648.4,165.0" fill="none" stroke="#2b98d6" stroke-width="1.9" stroke-linejoin="miter"/>
<path d="M650.2,28.4 L650.2,39.2 A5.6,5.6 0 0 0 650.2,50.4 L650.2,124.5" fill="none" stroke="#0c0c0c" stroke-width="1.9"/>
<line x1="770.9" y1="28.2" x2="898.8" y2="28.2" stroke="#0c0c0c" stroke-width="2.3"/>
<line x1="770.9" y1="44.6" x2="895.8" y2="44.6" stroke="#2b98d6" stroke-width="1.8"/>
<path d="M868.4,44.6 L868.4,66.0" fill="none" stroke="#2b98d6" stroke-width="1.9" stroke-linejoin="miter"/>
<path d="M863.6,88.5 L860.0,95.0 L860.0,124.5" fill="none" stroke="#2b98d6" stroke-width="1.9" stroke-linejoin="miter"/>
<path d="M872.8,88.5 L875.7,95.0 L875.7,124.5" fill="none" stroke="#2b98d6" stroke-width="1.9" stroke-linejoin="miter"/>
<path d="M797.7,200.0 L797.7,206.1 L876.6,206.1 L876.6,165.0" fill="none" stroke="#0c0c0c" stroke-width="1.9" stroke-linejoin="miter"/>
<path d="M797.7,28.2 L797.7,39.0 A5.6,5.6 0 0 0 797.7,50.2 L797.7,205.5" fill="none" stroke="#0c0c0c" stroke-width="1.9"/>
<line x1="939.3" y1="27" x2="1023.7" y2="27" stroke="#0c0c0c" stroke-width="2.3"/>
<line x1="939.3" y1="43.4" x2="1022" y2="43.4" stroke="#2b98d6" stroke-width="1.8"/>
<path d="M955.5,43.4 L955.5,205.3 L1008.7,205.3 L1008.7,168.0" fill="none" stroke="#2b98d6" stroke-width="1.9" stroke-linejoin="miter"/>
<path d="M1009.4,27.0 L1009.4,37.8 A5.6,5.6 0 0 0 1009.4,49.0 L1009.4,121.0" fill="none" stroke="#0c0c0c" stroke-width="1.9"/>
<line x1="151.5" y1="309.8" x2="320.6" y2="309.8" stroke="#0c0c0c" stroke-width="2.3"/>
<line x1="151.5" y1="326.7" x2="320.6" y2="326.7" stroke="#2b98d6" stroke-width="1.8"/>
<path d="M170.0,326.7 L170.0,488.5 L223.2,488.5 L223.2,450.0" fill="none" stroke="#2b98d6" stroke-width="1.9" stroke-linejoin="miter"/>
<path d="M304.8,326.7 L304.8,488.5 L252.0,488.5 L252.0,450.0" fill="none" stroke="#2b98d6" stroke-width="1.9" stroke-linejoin="miter"/>
<path d="M225.0,309.8 L225.0,321.1 A5.6,5.6 0 0 0 225.0,332.3 L225.0,410.0" fill="none" stroke="#0c0c0c" stroke-width="1.9"/>
<path d="M252.7,309.8 L252.7,321.1 A5.6,5.6 0 0 0 252.7,332.3 L252.7,410.0" fill="none" stroke="#0c0c0c" stroke-width="1.9"/>
<line x1="341" y1="309.3" x2="577" y2="309.3" stroke="#0c0c0c" stroke-width="2.3"/>
<line x1="341" y1="326.6" x2="577" y2="326.6" stroke="#2b98d6" stroke-width="1.8"/>
<path d="M356.2,326.6 L356.2,413.0" fill="none" stroke="#2b98d6" stroke-width="1.9" stroke-linejoin="miter"/>
<path d="M363.4,453.0 L363.4,491.2 L440.8,491.2 L440.8,453.0" fill="none" stroke="#0c0c0c" stroke-width="1.9" stroke-linejoin="miter"/>
<path d="M378.9,453.0 L378.9,484.6 L414.0,484.6 L414.0,367.1 L475.0,367.1 L475.0,413.0" fill="none" stroke="#0c0c0c" stroke-width="1.9" stroke-linejoin="miter"/>
<path d="M469.3,453.0 L469.3,492.0 L546.9,492.0 L546.9,453.0" fill="none" stroke="#2b98d6" stroke-width="1.9" stroke-linejoin="miter"/>
<path d="M498.0,349.8 L498.0,482.2 L526.6,482.2 L526.6,453.0" fill="none" stroke="#2b98d6" stroke-width="1.9" stroke-linejoin="miter"/>
<path d="M498.9,349.8 L446.6,349.8" fill="none" stroke="#2b98d6" stroke-width="1.9" stroke-linejoin="miter"/>
<path d="M446.6,348.9 L446.6,361.2 A5.9,5.9 0 0 0 446.6,373.0 L446.6,413.0" fill="none" stroke="#2b98d6" stroke-width="1.9"/>
<path d="M532.3,309.3 L532.3,321.0 A5.6,5.6 0 0 0 532.3,332.2 L532.3,413.0" fill="none" stroke="#0c0c0c" stroke-width="1.9"/>
<line x1="601.7" y1="310.2" x2="718" y2="310.2" stroke="#0c0c0c" stroke-width="2.3"/>
<line x1="601.7" y1="327" x2="715" y2="327" stroke="#2b98d6" stroke-width="1.8"/>
<path d="M638.4,327.0 L638.4,410.0" fill="none" stroke="#2b98d6" stroke-width="1.9" stroke-linejoin="miter"/>
<path d="M610.4,370.0 L610.4,488.9 L639.2,488.9 L639.2,455.0" fill="none" stroke="#0c0c0c" stroke-width="1.9" stroke-linejoin="miter"/>
<path d="M700.7,370.0 L700.7,488.9 L657.4,488.9 L657.4,455.0" fill="none" stroke="#0c0c0c" stroke-width="1.9" stroke-linejoin="miter"/>
<path d="M610.4,310.2 L610.4,321.4 A5.6,5.6 0 0 1 610.4,332.6 L610.4,350.0" fill="none" stroke="#0c0c0c" stroke-width="1.9"/>
<path d="M700.7,310.2 L700.7,321.4 A5.6,5.6 0 0 0 700.7,332.6 L700.7,350.0" fill="none" stroke="#0c0c0c" stroke-width="1.9"/>
<line x1="749" y1="309.3" x2="1013.3" y2="309.3" stroke="#0c0c0c" stroke-width="2.3"/>
<line x1="749" y1="326.3" x2="1013.3" y2="326.3" stroke="#2b98d6" stroke-width="1.8"/>
<path d="M846.3,326.3 L846.3,410.0" fill="none" stroke="#2b98d6" stroke-width="1.9" stroke-linejoin="miter"/>
<path d="M911.2,326.3 L911.2,363.4 A5.4,6.0 0 0 1 911.2,375.4 A5.4,7.0 0 0 1 910.9,390.3 L910.9,488.8 L883.3,488.8 L883.3,455" fill="none" stroke="#2b98d6" stroke-width="1.8"/>
<path d="M762.5,455.0 L762.5,488.8 L864.6,488.8 L864.6,455.0" fill="none" stroke="#0c0c0c" stroke-width="1.9" stroke-linejoin="miter"/>
<path d="M781.5,455.0 L781.5,478.5 L844.4,478.5 L844.4,455.0" fill="none" stroke="#0c0c0c" stroke-width="1.9" stroke-linejoin="miter"/>
<path d="M869.2,410.0 L869.2,369.5 L931.6,369.5 L931.4,476.7 L947.3,476.7 L947.3,455.0" fill="none" stroke="#0c0c0c" stroke-width="1.9" stroke-linejoin="miter"/>
<path d="M889.5,410.0 L890.4,383.3 L923.4,383.3 L923.4,488.8 L964.7,488.8 L964.7,455.0" fill="none" stroke="#0c0c0c" stroke-width="1.9" stroke-linejoin="miter"/>
<path d="M763.6,309.3 L763.6,320.7 A5.6,5.6 0 0 1 763.6,331.9 L763.6,410.0" fill="none" stroke="#0c0c0c" stroke-width="1.9"/>
<path d="M947.1,309.3 L947.1,320.7 A5.6,5.6 0 0 1 947.1,331.9 L947.1,410.0" fill="none" stroke="#0c0c0c" stroke-width="1.9"/>
<text x="131.6" y="33.6" class="ln">L</text>
<text x="131.6" y="51.6" class="ln">N</text>
<g transform="translate(239.2,86.8)"><circle r="10.7" fill="#fff" stroke="#0c0c0c" stroke-width="1.8"/><path d="M0,0 L0,-10.7 A10.7,10.7 0 0 0 -10.7,0 Z" fill="#0c0c0c"/><path d="M0,0 L0,10.7 A10.7,10.7 0 0 0 10.7,0 Z" fill="#0c0c0c"/></g>
<text x="185.9" y="151.3" text-anchor="middle" class="num" style="font-size:18.6px">306</text>
<text x="160.1" y="224.6" class="title" style="font-size:14.8px" textLength="81.9" lengthAdjust="spacingAndGlyphs">Aus-Schalter</text>
<text x="167.6" y="242.0" class="sb" textLength="56.0" lengthAdjust="spacingAndGlyphs">Interruptor</text>
<text x="179.3" y="255.0" class="sr" textLength="32.3" lengthAdjust="spacingAndGlyphs">Switch</text>
<text x="166.6" y="270.0" class="sl" textLength="58.8" lengthAdjust="spacingAndGlyphs">Interrupteur</text>
<text x="282.8" y="33.6" class="ln">L</text>
<text x="282.8" y="51.6" class="ln">N</text>
<text x="337.1" y="142.0" text-anchor="middle" class="num" style="font-size:18.6px">314</text>
<g transform="translate(337.4,205.8)"><circle r="10.7" fill="#fff" stroke="#0c0c0c" stroke-width="1.8"/><path d="M0,0 L0,-10.7 A10.7,10.7 0 0 0 -10.7,0 Z" fill="#0c0c0c"/><path d="M0,0 L0,10.7 A10.7,10.7 0 0 0 10.7,0 Z" fill="#0c0c0c"/></g>
<text x="275.5" y="226.6" class="title" style="font-size:15.8px" textLength="136.0" lengthAdjust="spacingAndGlyphs">Aus-Schalter 2polig</text>
<text x="296.9" y="242.0" class="sb" textLength="94.8" lengthAdjust="spacingAndGlyphs">Interruptor bipolar</text>
<text x="296.3" y="255.0" class="sr" textLength="96.8" lengthAdjust="spacingAndGlyphs">Double pole switch</text>
<text x="292.6" y="270.0" class="sl" textLength="104.6" lengthAdjust="spacingAndGlyphs">Interrupteur bipolaire</text>
<text x="408.8" y="33.6" class="ln">L</text>
<text x="408.8" y="51.5" class="ln">N</text>
<g transform="translate(453.4,76.7)"><circle r="10.7" fill="#fff" stroke="#0c0c0c" stroke-width="1.8"/><path d="M0,0 L0,-10.7 A10.7,10.7 0 0 0 -10.7,0 Z" fill="#0c0c0c"/><path d="M0,0 L0,10.7 A10.7,10.7 0 0 0 10.7,0 Z" fill="#0c0c0c"/></g>
<text x="463.8" y="151.7" text-anchor="middle" class="num" style="font-size:18.6px">308</text>
<text x="553.3" y="151.7" text-anchor="middle" class="num" style="font-size:18.6px">308</text>
<text x="450.2" y="225.2" class="title" style="font-size:14.6px" textLength="108.3" lengthAdjust="spacingAndGlyphs">Wechselschalter</text>
<text x="468.1" y="242.0" class="sb" textLength="65.2" lengthAdjust="spacingAndGlyphs">Conmutador</text>
<text x="461.6" y="255.0" class="sr" textLength="77.6" lengthAdjust="spacingAndGlyphs">Two-way switch</text>
<text x="474.8" y="270.0" class="sl" textLength="52.0" lengthAdjust="spacingAndGlyphs">Va-et-vient</text>
<text x="614.2" y="34.0" class="ln">L</text>
<text x="614.2" y="52.199999999999996" class="ln">N</text>
<g transform="translate(714.9,81.1) scale(-1,1)"><path d="M0,-1.8 L10,-1.8 M0,1.7 L10,1.7" stroke="#0c0c0c" stroke-width="1.5" fill="none"/><rect x="9.6" y="-4.7" width="8.6" height="9.4" fill="#fff" stroke="#0c0c0c" stroke-width="1.7"/><path d="M18.2,-3.3 L28.7,-6.3 Q30.6,0 28.7,6.3 L18.2,3.3 Z" fill="#fff" stroke="#0c0c0c" stroke-width="1.7" stroke-linejoin="round"/><path d="M30.6,-8.5 Q35.8,0 30.6,8.5" fill="none" stroke="#0c0c0c" stroke-width="1.4" stroke-linecap="round"/><path d="M34.6,-12 Q42.4,0 34.6,12" fill="none" stroke="#0c0c0c" stroke-width="1.9" stroke-linecap="round"/><path d="M38.2,-14.6 Q50.8,0 38.2,14.6" fill="none" stroke="#0c0c0c" stroke-width="2.4" stroke-linecap="round"/></g>
<text x="665.0999999999999" y="151.7" text-anchor="middle" class="num" style="font-size:18.6px">328</text>
<text x="623.2" y="224.6" class="title" style="font-size:14.8px" textLength="104.0" lengthAdjust="spacingAndGlyphs">Drehtaster 1pol.</text>
<text x="633.6" y="242.0" class="sb" textLength="86.2" lengthAdjust="spacingAndGlyphs">Pulsador rotativo</text>
<text x="612.3" y="255.0" class="sr" textLength="128.6" lengthAdjust="spacingAndGlyphs">Rotary pushbutton switch</text>
<text x="643.8" y="270.0" class="sl" textLength="67.0" lengthAdjust="spacingAndGlyphs">Bouton rotatif</text>
<text x="759.2" y="33.8" class="ln">L</text>
<text x="759.2" y="52.0" class="ln">N</text>
<circle cx="868.3" cy="77.9" r="11.7" fill="#fff" stroke="#0c0c0c" stroke-width="2.2"/>
<text x="868.3" y="84.10000000000001" text-anchor="middle" class="num" style="font-size:17.5px">M</text>
<text x="857.5" y="151.7" text-anchor="middle" class="num" style="font-size:18.6px">342</text>
<text x="786.9" y="224.6" class="title" style="font-size:14.8px" textLength="106.7" lengthAdjust="spacingAndGlyphs">Rolladenschalter</text>
<text x="775.4" y="242.0" class="sb" textLength="110.6" lengthAdjust="spacingAndGlyphs">Mecanismo persianas</text>
<text x="764.2" y="255.0" class="sr" textLength="132.7" lengthAdjust="spacingAndGlyphs">Electric blinds mechanism</text>
<text x="765.0" y="270.0" class="sl" textLength="130.0" lengthAdjust="spacingAndGlyphs">M&#233;canisme volets roulants</text>
<text x="922.8" y="32.6" class="ln">L</text>
<text x="922.8" y="50.8" class="ln">N</text>
<g transform="translate(955.5,92.3) scale(1,1)"><path d="M0,-1.8 L10,-1.8 M0,1.7 L10,1.7" stroke="#0c0c0c" stroke-width="1.5" fill="none"/><rect x="9.6" y="-4.7" width="8.6" height="9.4" fill="#fff" stroke="#0c0c0c" stroke-width="1.7"/><path d="M18.2,-3.3 L28.7,-6.3 Q30.6,0 28.7,6.3 L18.2,3.3 Z" fill="#fff" stroke="#0c0c0c" stroke-width="1.7" stroke-linejoin="round"/><path d="M30.6,-8.5 Q35.8,0 30.6,8.5" fill="none" stroke="#0c0c0c" stroke-width="1.4" stroke-linecap="round"/><path d="M34.6,-12 Q42.4,0 34.6,12" fill="none" stroke="#0c0c0c" stroke-width="1.9" stroke-linecap="round"/><path d="M38.2,-14.6 Q50.8,0 38.2,14.6" fill="none" stroke="#0c0c0c" stroke-width="2.4" stroke-linecap="round"/></g>
<text x="996.6" y="149.7" class="num" style="font-size:14px" textLength="24" lengthAdjust="spacingAndGlyphs">310</text>
<text x="954.6" y="224.6" class="title" style="font-size:17.8px" textLength="49.8" lengthAdjust="spacingAndGlyphs">Taster</text>
<text x="952.4" y="242.0" class="sb" textLength="44.6" lengthAdjust="spacingAndGlyphs">Pulsador</text>
<text x="945.6" y="255.0" class="sr" textLength="57.4" lengthAdjust="spacingAndGlyphs">Pushbutton</text>
<text x="956.5" y="270.0" class="sl" textLength="35.5" lengthAdjust="spacingAndGlyphs">Bouton</text>
<text x="138.4" y="315.40000000000003" class="ln">L</text>
<text x="138.4" y="334.09999999999997" class="ln">N</text>
<g transform="translate(170,359.2) scale(1,1)"><path d="M0,-1.8 L10,-1.8 M0,1.7 L10,1.7" stroke="#0c0c0c" stroke-width="1.5" fill="none"/><rect x="9.6" y="-4.7" width="8.6" height="9.4" fill="#fff" stroke="#0c0c0c" stroke-width="1.7"/><path d="M18.2,-3.3 L28.7,-6.3 Q30.6,0 28.7,6.3 L18.2,3.3 Z" fill="#fff" stroke="#0c0c0c" stroke-width="1.7" stroke-linejoin="round"/><path d="M30.6,-8.5 Q35.8,0 30.6,8.5" fill="none" stroke="#0c0c0c" stroke-width="1.4" stroke-linecap="round"/><path d="M34.6,-12 Q42.4,0 34.6,12" fill="none" stroke="#0c0c0c" stroke-width="1.9" stroke-linecap="round"/><path d="M38.2,-14.6 Q50.8,0 38.2,14.6" fill="none" stroke="#0c0c0c" stroke-width="2.4" stroke-linecap="round"/></g>
<g transform="translate(304.8,359.2) scale(-1,1)"><path d="M0,-1.8 L10,-1.8 M0,1.7 L10,1.7" stroke="#0c0c0c" stroke-width="1.5" fill="none"/><rect x="9.6" y="-4.7" width="8.6" height="9.4" fill="#fff" stroke="#0c0c0c" stroke-width="1.7"/><path d="M18.2,-3.3 L28.7,-6.3 Q30.6,0 28.7,6.3 L18.2,3.3 Z" fill="#fff" stroke="#0c0c0c" stroke-width="1.7" stroke-linejoin="round"/><path d="M30.6,-8.5 Q35.8,0 30.6,8.5" fill="none" stroke="#0c0c0c" stroke-width="1.4" stroke-linecap="round"/><path d="M34.6,-12 Q42.4,0 34.6,12" fill="none" stroke="#0c0c0c" stroke-width="1.9" stroke-linecap="round"/><path d="M38.2,-14.6 Q50.8,0 38.2,14.6" fill="none" stroke="#0c0c0c" stroke-width="2.4" stroke-linecap="round"/></g>
<text x="240.9" y="436.7" text-anchor="middle" class="num" style="font-size:18.6px">344</text>
<text x="146.7" y="505.5" class="title" style="font-size:16.6px" textLength="175.3" lengthAdjust="spacingAndGlyphs">Doppeldrehtaster 2pol.</text>
<text x="169.5" y="525.0" class="sb2" textLength="121.5" lengthAdjust="spacingAndGlyphs">Doble pulsador rotativo</text>
<text x="146.7" y="538.0" class="sr2" textLength="166.6" lengthAdjust="spacingAndGlyphs">Double rotary pushbutton switch</text>
<text x="176.8" y="552.0" class="sl2" textLength="107.0" lengthAdjust="spacingAndGlyphs">Double bouton rotatif</text>
<text x="328.6" y="314.90000000000003" class="ln">L</text>
<text x="328.6" y="334.0" class="ln">N</text>
<g transform="translate(356.2,372.6)"><circle r="11.0" fill="#fff" stroke="#0c0c0c" stroke-width="1.8"/><path d="M0,0 L0,-11.0 A11.0,11.0 0 0 0 -11.0,0 Z" fill="#0c0c0c"/><path d="M0,0 L0,11.0 A11.0,11.0 0 0 0 11.0,0 Z" fill="#0c0c0c"/></g>
<text x="374.3" y="440.2" text-anchor="middle" class="num" style="font-size:18.6px">308</text>
<text x="457.6" y="440.2" text-anchor="middle" class="num" style="font-size:18.6px">304</text>
<text x="543.5" y="440.2" text-anchor="middle" class="num" style="font-size:18.6px">308</text>
<text x="399.6" y="509.6" class="title" style="font-size:17.6px" textLength="109.1" lengthAdjust="spacingAndGlyphs">Kreuzschalter</text>
<text x="420.6" y="525.0" class="sb2" textLength="65.5" lengthAdjust="spacingAndGlyphs">Cruzamiento</text>
<text x="403.9" y="538.0" class="sr2" textLength="99.4" lengthAdjust="spacingAndGlyphs">Intermediate switch</text>
<text x="423.7" y="552.0" class="sl2" textLength="60.0" lengthAdjust="spacingAndGlyphs">Permutateur</text>
<text x="589.6" y="315.8" class="ln">L</text>
<text x="589.6" y="334.4" class="ln">N</text>
<g transform="translate(610.4,359.4)"><circle r="10.7" fill="#fff" stroke="#0c0c0c" stroke-width="1.8"/><path d="M0,0 L0,-10.7 A10.7,10.7 0 0 0 -10.7,0 Z" fill="#0c0c0c"/><path d="M0,0 L0,10.7 A10.7,10.7 0 0 0 10.7,0 Z" fill="#0c0c0c"/></g>
<g transform="translate(700.7,359.4)"><circle r="10.7" fill="#fff" stroke="#0c0c0c" stroke-width="1.8"/><path d="M0,0 L0,-10.7 A10.7,10.7 0 0 0 -10.7,0 Z" fill="#0c0c0c"/><path d="M0,0 L0,10.7 A10.7,10.7 0 0 0 10.7,0 Z" fill="#0c0c0c"/></g>
<text x="652.3" y="440.0" text-anchor="middle" class="num" style="font-size:19px">300</text>
<text x="598.8" y="510.0" class="title" style="font-size:17.8px" textLength="115.5" lengthAdjust="spacingAndGlyphs">Serienschalter</text>
<text x="611.8" y="525.0" class="sb2" textLength="89.5" lengthAdjust="spacingAndGlyphs">Doble interruptor</text>
<text x="596.5" y="538.0" class="sr2" textLength="120.1" lengthAdjust="spacingAndGlyphs">Double one-pole switch</text>
<text x="581.4" y="552.0" class="sl2" textLength="150.2" lengthAdjust="spacingAndGlyphs">Double interrupteur unipolaire</text>
<text x="736.6" y="314.90000000000003" class="ln">L</text>
<text x="736.6" y="333.7" class="ln">N</text>
<g transform="translate(847,342.2)"><circle r="11.0" fill="#fff" stroke="#0c0c0c" stroke-width="1.8"/><path d="M0,0 L0,-11.0 A11.0,11.0 0 0 0 -11.0,0 Z" fill="#0c0c0c"/><path d="M0,0 L0,11.0 A11.0,11.0 0 0 0 11.0,0 Z" fill="#0c0c0c"/></g>
<g transform="translate(911.6,340.5)"><circle r="11.0" fill="#fff" stroke="#0c0c0c" stroke-width="1.8"/><path d="M0,0 L0,-11.0 A11.0,11.0 0 0 0 -11.0,0 Z" fill="#0c0c0c"/><path d="M0,0 L0,11.0 A11.0,11.0 0 0 0 11.0,0 Z" fill="#0c0c0c"/></g>
<text x="789.6" y="441.2" text-anchor="middle" class="num" style="font-size:19px">308</text>
<text x="867.7" y="441.2" text-anchor="middle" class="num" style="font-size:19px">302</text>
<text x="963.4" y="441.2" text-anchor="middle" class="num" style="font-size:19px">308</text>
<text x="806.9" y="506.8" class="title" style="font-size:15.2px" textLength="159.3" lengthAdjust="spacingAndGlyphs">Doppelwechselschalter</text>
<text x="827.4" y="525.0" class="sb2" textLength="97.1" lengthAdjust="spacingAndGlyphs">Doble conmutador</text>
<text x="817.0" y="538.0" class="sr2" textLength="117.2" lengthAdjust="spacingAndGlyphs">Double two-way switch</text>
<text x="830.9" y="553.0" class="sl2" textLength="90.1" lengthAdjust="spacingAndGlyphs">Double va-et-vient</text>
<text x="923.1" y="629.8" class="site" textLength="182.8" lengthAdjust="spacingAndGlyphs">retro-lichtschalter.de</text>
</svg>
</body></html>
